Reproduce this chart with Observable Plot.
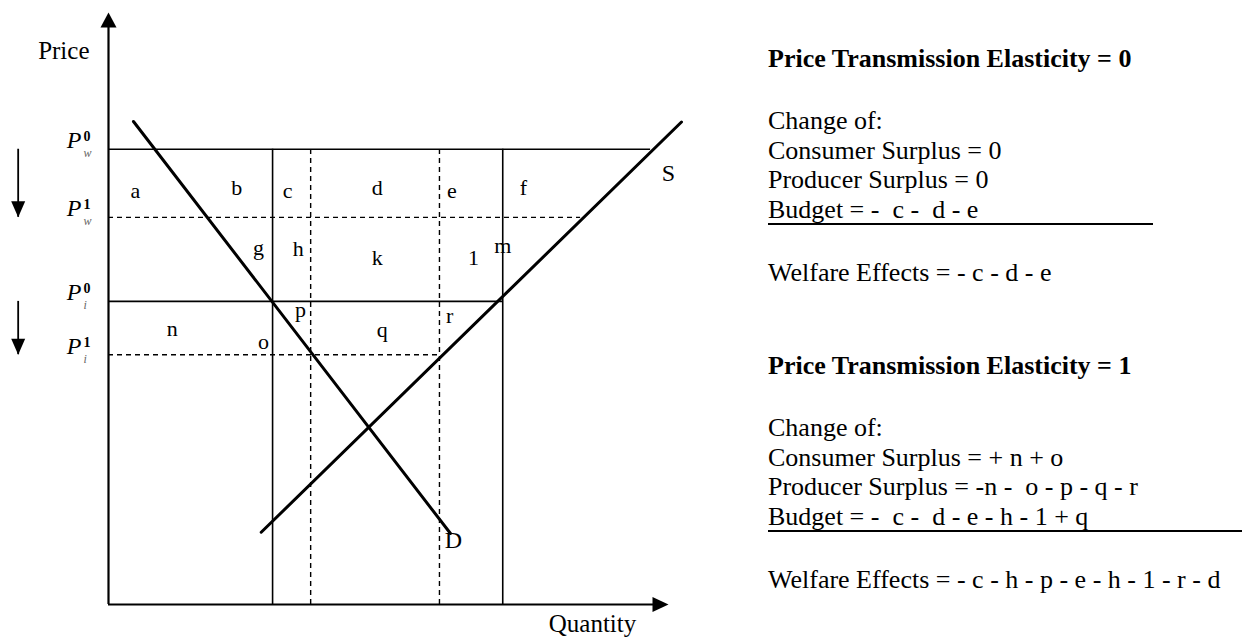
<!DOCTYPE html>
<html>
<head>
<meta charset="utf-8">
<script src="https://cdn.jsdelivr.net/npm/d3@7"></script>
<script src="https://cdn.jsdelivr.net/npm/@observablehq/plot@0.6"></script>
<style>
  html, body { margin: 0; padding: 0; background: #fff; }
  #wrap { position: relative; width: 1242px; height: 637px; overflow: hidden; background: #fff; }
  #chart { position: absolute; left: 0; top: 0; }
  #panel { position: absolute; left: 768px; top: 0; width: 474px; height: 637px;
           font-family: "Liberation Serif", "Times New Roman", serif; font-size: 26px; color: #000; }
  .ln { position: absolute; left: 0; white-space: pre; line-height: 26px; }
  .ttl { font-weight: bold; }
  .ul { position: absolute; left: 0; height: 0; border-top: 2px solid #000; }
</style>
</head>
<body>
<div id="wrap"><div id="chart"></div><div id="panel"></div></div>
<script>
// ---------- data ----------
const priceLabel = "Price";
const quantityLabel = "Quantity";

// price levels: P_w^0, P_w^1, P_i^0, P_i^1
const priceNames  = ["w", "w", "i", "i"];
const priceSup    = ["0", "1", "0", "1"];
const priceValues = [7.69, 6.54, 5.12, 4.22];
const priceLineEnds = [9.68, 8.43, 7.04, 5.91];   // quantity where each price line stops

// vertical quantity markers
const solidQuantities  = [2.93, 7.04];
const dashedQuantities = [3.61, 5.91];

// demand and supply curves (two points each)
const demandQ = [0.446, 6.107];
const demandP = [8.159, 1.199];
const supplyQ = [2.727, 10.232];
const supplyP = [1.22, 8.15];
const curveLabels = ["S", "D"];
const curveLabelQ = [10.0, 6.16];
const curveLabelP = [7.28, 1.08];

// area labels
const regionLabels = ["a","b","c","d","e","f","g","h","k","1","m","n","o","p","q","r"];
const regionQ = [0.48, 2.29, 3.20, 4.80, 6.13, 7.41, 2.68, 3.39, 4.80, 6.52, 7.04, 1.14, 2.77, 3.43, 4.89, 6.09];
const regionP = [6.99, 7.03, 6.99, 7.03, 6.99, 7.03, 6.03, 6.01, 5.86, 5.86, 6.06, 4.66, 4.43, 4.97, 4.63, 4.88];

// text panel
const block0 = [
  "Price Transmission Elasticity = 0",
  "Change of:",
  "Consumer Surplus = 0",
  "Producer Surplus = 0",
  "Budget = -  c -  d - e",
  "Welfare Effects = - c - d - e"
];
const block1 = [
  "Price Transmission Elasticity = 1",
  "Change of:",
  "Consumer Surplus = + n + o",
  "Producer Surplus = -n -  o - p - q - r",
  "Budget = -  c -  d - e - h - 1 + q",
  "Welfare Effects = - c - h - p - e - h - 1 - r - d"
];

// ---------- chart ----------
const font = '"Liberation Serif", "Times New Roman", serif';
const rows = priceValues.map((p, i) => ({p, end: priceLineEnds[i], name: priceNames[i], sup: priceSup[i]}));
const drops = [{from: priceValues[0], to: priceValues[1]}, {from: priceValues[2], to: priceValues[3]}];
const demand = demandQ.map((q, i) => ({q, p: demandP[i]}));
const supply = supplyQ.map((q, i) => ({q, p: supplyP[i]}));
const arrowQ = -1.613;

const upTri = {draw(c) { c.moveTo(0, 0); c.lineTo(8, 15); c.lineTo(-8, 15); c.closePath(); }};
const rightTri = {draw(c) { c.moveTo(0, 0); c.lineTo(-16, 7.5); c.lineTo(-16, -7.5); c.closePath(); }};
const downTri = {draw(c) { c.moveTo(0, 0); c.lineTo(7, -16); c.lineTo(-7, -16); c.closePath(); }};

const chart = Plot.plot({
  width: 1242,
  height: 637,
  margin: 0,
  x: {domain: [0, 10], range: [108, 668], axis: null},
  y: {domain: [0, 10], range: [604, 12], axis: null},
  style: {fontFamily: font, background: "transparent", overflow: "visible", color: "black"},
  marks: [
    Plot.ruleY(rows.filter(r => r.sup === "0"), {y: "p", x1: 0, x2: "end", stroke: "black", strokeWidth: 1.6}),
    Plot.ruleY(rows.filter(r => r.sup === "1"), {y: "p", x1: 0, x2: "end", stroke: "black", strokeWidth: 1.4, strokeDasharray: "5,4"}),
    Plot.ruleX(solidQuantities, {y1: 0, y2: priceValues[0], stroke: "black", strokeWidth: 1.6}),
    Plot.ruleX(dashedQuantities, {y1: 0, y2: priceValues[0], stroke: "black", strokeWidth: 1.4, strokeDasharray: "5,4"}),
    Plot.line(demand, {x: "q", y: "p", stroke: "black", strokeWidth: 3}),
    Plot.line(supply, {x: "q", y: "p", stroke: "black", strokeWidth: 3}),
    // axes
    Plot.ruleX([0], {y1: 0, y2: 9.9, stroke: "black", strokeWidth: 2.2}),
    Plot.ruleY([0], {x1: 0, x2: 9.9, stroke: "black", strokeWidth: 2.2}),
    Plot.dot([0], {x: 0, y: 10, symbol: upTri, r: 5, fill: "black", stroke: null}),
    Plot.dot([0], {x: 10, y: 0, symbol: rightTri, r: 5, fill: "black", stroke: null}),
    // price decline arrows
    Plot.ruleX(drops, {x: arrowQ, y1: "from", y2: "to", stroke: "black", strokeWidth: 1.8}),
    Plot.dot(drops, {x: arrowQ, y: "to", symbol: downTri, r: 5, fill: "black", stroke: null}),
    // labels
    Plot.text(regionLabels, {x: (d, i) => regionQ[i], y: (d, i) => regionP[i], text: d => d, fontSize: 22, lineAnchor: "middle", fill: "black"}),
    Plot.text(curveLabels, {x: (d, i) => curveLabelQ[i], y: (d, i) => curveLabelP[i], text: d => d, fontSize: 24, lineAnchor: "middle", fill: "black"}),
    Plot.text(rows, {x: 0, y: "p", text: () => "P", dx: -27, dy: -1, textAnchor: "end", lineAnchor: "bottom", fontSize: 24, fontStyle: "italic", fill: "black"}),
    Plot.text(rows, {x: 0, y: "p", text: "sup", dx: -25, dy: -8, textAnchor: "start", lineAnchor: "bottom", fontSize: 14, fontWeight: "bold", fill: "black"}),
    Plot.text(rows, {x: 0, y: "p", text: "name", dx: -25, dy: 8, textAnchor: "start", lineAnchor: "bottom", fontSize: 12, fontStyle: "italic", fill: "#666"}),
    Plot.text([priceLabel], {x: 0, y: 10, dx: -19, dy: 46, textAnchor: "end", lineAnchor: "bottom", fontSize: 25, fill: "black"}),
    Plot.text([quantityLabel], {x: 10, y: 0, dx: -76, dy: 27, textAnchor: "middle", lineAnchor: "bottom", fontSize: 25, fill: "black"})
  ]
});
document.getElementById("chart").appendChild(chart);

// ---------- text panel ----------
const panel = document.getElementById("panel");
const offsets = [0, 62, 92, 121, 151, 214];
const ascentPx = 21.8;
function addBlock(lines, baseline, underlineWidth) {
  lines.forEach((t, i) => {
    const div = document.createElement("div");
    div.className = "ln" + (i === 0 ? " ttl" : "");
    div.textContent = t;
    div.style.top = (baseline + offsets[i] - ascentPx) + "px";
    panel.appendChild(div);
    if (i === 4) {
      const u = document.createElement("div");
      u.className = "ul";
      u.style.top = (baseline + offsets[i] + 4) + "px";
      u.style.width = underlineWidth + "px";
      panel.appendChild(u);
    }
  });
}
addBlock(block0, 68, 385);
addBlock(block1, 375, 474);
</script>
</body>
</html>
